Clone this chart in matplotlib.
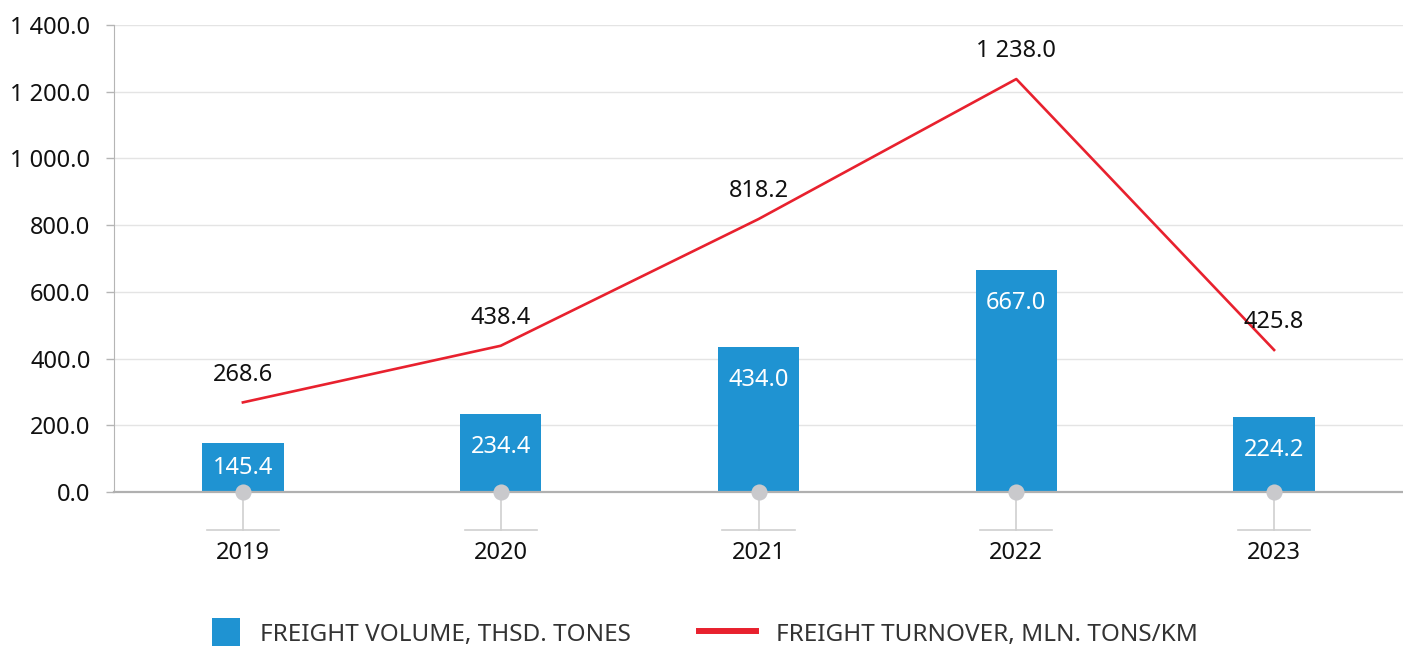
import matplotlib
matplotlib.use("Agg")
import matplotlib.pyplot as plt
from matplotlib.transforms import blended_transform_factory
from matplotlib.patches import Patch, Rectangle
from matplotlib.lines import Line2D
from matplotlib.legend_handler import HandlerPatch

# --------------------------------------------------
# Data
# --------------------------------------------------
years = ["2019", "2020", "2021", "2022", "2023"]
volume = [145.4, 234.4, 434.0, 667.0, 224.2]
turnover = [268.6, 438.4, 818.2, 1238.0, 425.8]
y_ticks = [0, 200, 400, 600, 800, 1000, 1200, 1400]

bar_color = "#1f93d2"
line_color = "#e8212e"
marker_color = "#c9c9cc"
text_color = "#111111"

plt.rcParams["font.family"] = ["Noto Sans", "DejaVu Sans"]
FS = 17


def fmt(v):
    # space as thousands separator, one decimal
    return f"{v:,.1f}".replace(",", " ")


fig = plt.figure(figsize=(14.03, 6.47), dpi=100)
ax = fig.add_axes([114 / 1403, 1 - 492 / 647, 1 - 114 / 1403, 467 / 647])

x = list(range(len(years)))

# bars
ax.bar(x, volume, width=0.315, color=bar_color, zorder=2)

# line
ax.plot(x, turnover, color=line_color, linewidth=1.9, zorder=3)

# labels inside bars
units_per_px = 1400 / 467
for xi, v in zip(x, volume):
    ylab = max(v / 2, v - 33 * units_per_px)
    ax.text(xi, ylab, fmt(v), color="white", ha="center", va="center",
            fontsize=FS, zorder=4)

# labels above line
for xi, v in zip(x, turnover):
    ax.annotate(fmt(v), (xi, v), xytext=(0, 20), textcoords="offset points",
                ha="center", va="center", fontsize=FS,
                color=text_color, zorder=4)

# axis styling
ax.set_xlim(-0.5, len(years) - 0.5)
ax.set_ylim(0, 1400)
ax.set_yticks(y_ticks)
ax.set_yticklabels([fmt(t) for t in y_ticks])
ax.tick_params(axis="y", length=6, width=1, color="#b5b5b5", pad=11,
               labelsize=FS, labelcolor=text_color)
ax.set_xticks([])
ax.grid(axis="y", color="#e4e4e4", linewidth=1, zorder=0)
ax.set_axisbelow(True)
for s in ["top", "right"]:
    ax.spines[s].set_visible(False)
ax.spines["left"].set_color("#b5b5b5")
ax.spines["bottom"].set_color("#b0b0b0")
ax.spines["bottom"].set_linewidth(1.6)

# custom category ticks: circle + stem + short bar + year
trans = blended_transform_factory(ax.transData, ax.transAxes)
stem_bottom = -38 / 467
for xi, yr in zip(x, years):
    ax.plot([xi, xi], [0, stem_bottom], color="#cfcfcf", linewidth=1.2,
            transform=trans, clip_on=False, zorder=1)
    ax.plot([xi - 0.14, xi + 0.14], [stem_bottom, stem_bottom], color="#cfcfcf",
            linewidth=1.2, transform=trans, clip_on=False, zorder=1)
    ax.text(xi, -61 / 467, yr, transform=trans, ha="center", va="center",
            fontsize=FS, color=text_color)
ax.scatter(x, [0] * len(x), s=135, color=marker_color, zorder=5, clip_on=False,
           linewidths=0)


# legend: square swatch for bars, long line for the series
def square_patch(legend, orig_handle, xdescent, ydescent, width, height, fontsize):
    side = height * 1.3
    return Rectangle((width - side - xdescent, -ydescent + (height - side) / 2),
                     side, side)


LFS = 17.5
handles = [
    Patch(facecolor=bar_color, edgecolor="none"),
    Line2D([0], [0], color=line_color, linewidth=4.3),
]
labels = ["FREIGHT VOLUME, THSD. TONES", "FREIGHT TURNOVER, MLN. TONS/KM"]
leg = fig.legend(handles, labels, loc="center",
                 bbox_to_anchor=(0.5 - 11 / 1403, 1 - 634 / 647),
                 ncol=2, frameon=False, fontsize=LFS, handlelength=2.35,
                 handleheight=1.0, columnspacing=2.8, handletextpad=0.82,
                 handler_map={Patch: HandlerPatch(patch_func=square_patch)})
for t in leg.get_texts():
    t.set_color("#333333")

fig.savefig("out.png", dpi=100)
